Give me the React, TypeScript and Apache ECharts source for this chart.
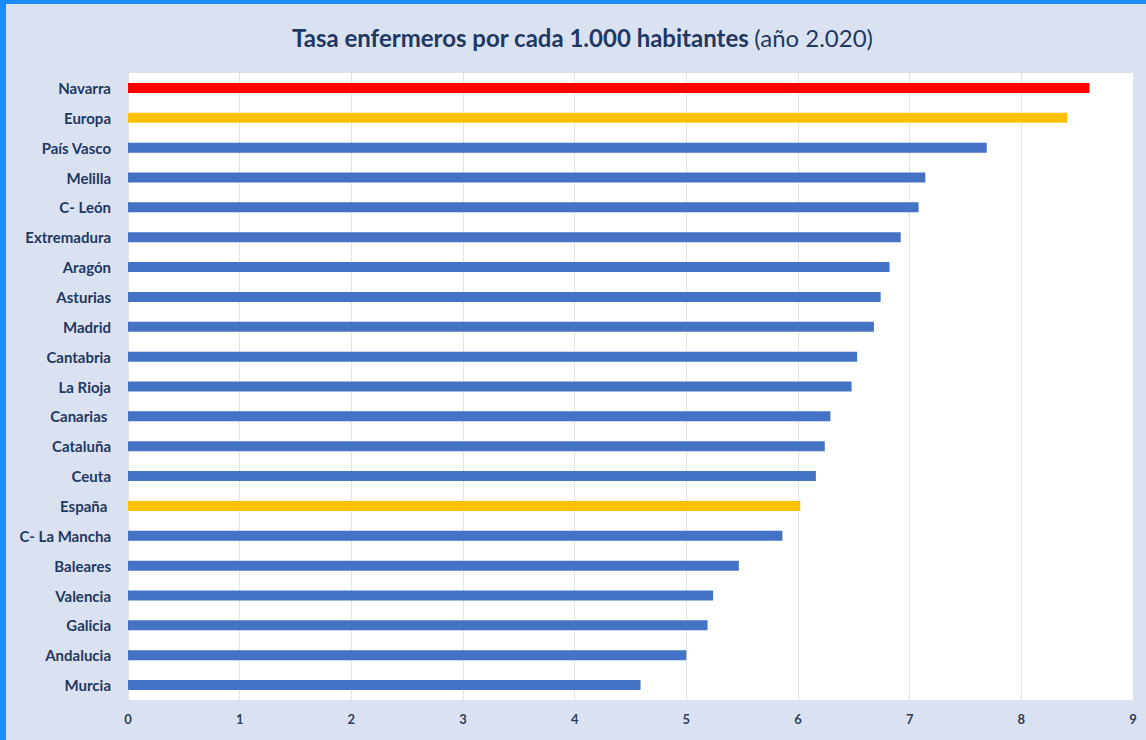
import React, { useEffect, useRef } from "react";
import * as echarts from "echarts";

const categories = [
  "Navarra", "Europa", "País Vasco", "Melilla", "C- León", "Extremadura", "Aragón",
  "Asturias", "Madrid", "Cantabria", "La Rioja", "Canarias ", "Cataluña", "Ceuta",
  "España ", "C- La Mancha", "Baleares", "Valencia", "Galicia", "Andalucia", "Murcia",
];
const values = [
  8.61, 8.41, 7.69, 7.14, 7.08, 6.92, 6.82, 6.74, 6.68, 6.53, 6.48, 6.29, 6.24, 6.16,
  6.02, 5.86, 5.47, 5.24, 5.19, 5.0, 4.59,
];
const highlightRed = ["Navarra"];
const highlightYellow = ["Europa", "España "];
const xTicks = [0, 1, 2, 3, 4, 5, 6, 7, 8, 9];

const FONT = "Lato, 'Open Sans', sans-serif";

export default function App() {
  const ref = useRef<HTMLDivElement>(null);
  useEffect(() => {
    if (!ref.current) return;
    const chart = echarts.init(ref.current, null, { renderer: "svg" });
    const data = values.map((v, i) => {
      const c = categories[i];
      let color = "#4472c4";
      if (highlightRed.includes(c)) color = "#ff0000";
      else if (highlightYellow.includes(c)) color = "#ffc000";
      return { value: v, itemStyle: { color } };
    });
    chart.setOption({
      animation: false,
      backgroundColor: "#dae2f1",
      title: {
        text: "{b|Tasa enfermeros por cada 1.000 habitantes} {n|(año 2.020)}",
        left: 287,
        top: 20,
        textStyle: {
          rich: {
            b: { fontFamily: FONT, fontSize: 24, fontWeight: "bold", color: "#1f3864" },
            n: { fontFamily: FONT, fontSize: 24, fontWeight: "normal", color: "#1f3864" },
          },
        },
      },
      graphic: [
        { type: "rect", left: 0, top: 0, shape: { width: 6, height: 740 }, style: { fill: "#1a8cff" } },
        { type: "rect", left: 0, top: 0, shape: { width: 1146, height: 4 }, style: { fill: "#1a8cff" } },
      ],
      grid: {
        left: 128,
        right: 13,
        top: 73,
        bottom: 40,
        show: true,
        backgroundColor: "#ffffff",
        borderWidth: 0,
      },
      xAxis: {
        type: "value",
        min: 0,
        max: 9,
        interval: 1,
        axisLine: { show: false },
        axisTick: { show: false },
        splitLine: { show: true, lineStyle: { color: "#e3e3e3", width: 1 } },
        axisLabel: {
          margin: 12,
          fontFamily: FONT,
          fontSize: 13,
          fontWeight: "bold",
          color: "#2f3d55",
          formatter: (v: number) => (xTicks.includes(v) ? String(v) : ""),
        },
      },
      yAxis: {
        type: "category",
        data: categories,
        inverse: true,
        axisLine: { show: false },
        axisTick: { show: false },
        axisLabel: {
          margin: 17,
          fontFamily: FONT,
          fontSize: 15,
          fontWeight: "bold",
          color: "#1f3864",
        },
      },
      series: [
        {
          type: "bar",
          data,
          barWidth: 10,
        },
      ],
    });
    return () => chart.dispose();
  }, []);
  return (
    <div
      ref={ref}
      style={{ position: "fixed", left: 0, top: 0, width: 1146, height: 740 }}
    />
  );
}
